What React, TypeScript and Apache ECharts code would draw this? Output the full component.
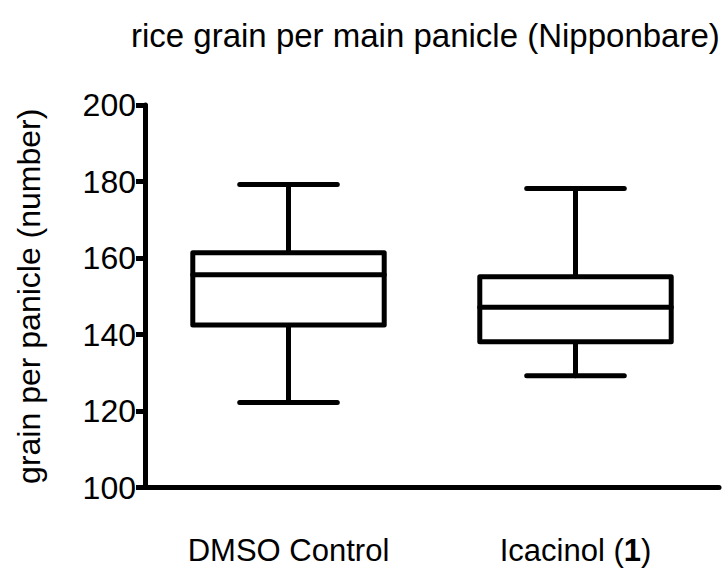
import React, { useEffect, useRef } from "react";
import * as echarts from "echarts";

const categories = ["DMSO Control", "Icacinol (1)"];
const whiskerLow = [122.2, 129.2];
const quartile1 = [142.5, 138.1];
const medians = [155.6, 147.1];
const quartile3 = [161.4, 155.1];
const whiskerHigh = [179.2, 178.2];
const yMin = 100;
const yMax = 200;
const yStep = 20;

const FONT = "Arial, 'Liberation Sans', Helvetica, sans-serif";

export default function App() {
  const ref = useRef<HTMLDivElement>(null);
  useEffect(() => {
    if (!ref.current) return;
    const chart = echarts.init(ref.current, null, { renderer: "svg" });
    const data = categories.map((_, i) => [
      i,
      whiskerLow[i],
      quartile1[i],
      medians[i],
      quartile3[i],
      whiskerHigh[i],
    ]);
    const lineStyle = {
      stroke: "#000",
      lineWidth: 5,
      lineCap: "round",
      lineJoin: "round",
    };
    chart.setOption({
      animation: false,
      backgroundColor: "#fff",
      title: {
        text: "rice grain per main panicle (Nipponbare)",
        left: 126,
        top: 14,
        textStyle: { fontFamily: FONT, fontSize: 33, fontWeight: "normal", color: "#000" },
      },
      grid: { left: 145, right: 5, top: 105, bottom: 81.5 },
      xAxis: {
        type: "category",
        data: categories,
        boundaryGap: true,
        axisLine: { lineStyle: { color: "#000", width: 5 } },
        axisTick: { alignWithLabel: true, length: 14, lineStyle: { color: "#000", width: 5 } },
        axisLabel: {
          margin: 47,
          color: "#000",
          fontFamily: FONT,
          fontSize: 31,
          formatter: (v: string) => v.replace("(1)", "({b|1})"),
          rich: {
            b: { fontFamily: FONT, fontSize: 31, fontWeight: "bold", color: "#000" },
          },
        },
        splitLine: { show: false },
      },
      yAxis: {
        type: "value",
        min: yMin,
        max: yMax,
        interval: yStep,
        name: "grain per panicle (number)",
        nameLocation: "middle",
        nameGap: 100,
        nameTextStyle: { fontFamily: FONT, fontSize: 32, color: "#000" },
        axisLine: { show: true, lineStyle: { color: "#000", width: 5 } },
        axisTick: { show: true, length: 9, lineStyle: { color: "#000", width: 5 } },
        axisLabel: { margin: 9, color: "#000", fontFamily: FONT, fontSize: 32 },
        splitLine: { show: false },
      },
      series: [
        {
          type: "custom",
          encode: { x: 0, y: [1, 2, 3, 4, 5] },
          data,
          renderItem: (params: any, api: any) => {
            const x = api.value(0);
            const lo = api.coord([x, api.value(1)]);
            const q1 = api.coord([x, api.value(2)]);
            const md = api.coord([x, api.value(3)]);
            const q3 = api.coord([x, api.value(4)]);
            const hi = api.coord([x, api.value(5)]);
            const band = api.size([1, 0])[0];
            const bw = band * 0.667;
            const cw = band * 0.34;
            const cx = lo[0];
            return {
              type: "group",
              children: [
                { type: "line", shape: { x1: cx, y1: q3[1], x2: cx, y2: hi[1] }, style: lineStyle },
                { type: "line", shape: { x1: cx, y1: q1[1], x2: cx, y2: lo[1] }, style: lineStyle },
                { type: "line", shape: { x1: cx - cw / 2, y1: hi[1], x2: cx + cw / 2, y2: hi[1] }, style: lineStyle },
                { type: "line", shape: { x1: cx - cw / 2, y1: lo[1], x2: cx + cw / 2, y2: lo[1] }, style: lineStyle },
                {
                  type: "rect",
                  shape: { x: cx - bw / 2, y: q3[1], width: bw, height: q1[1] - q3[1] },
                  style: { ...lineStyle, fill: "#fff" },
                },
                { type: "line", shape: { x1: cx - bw / 2, y1: md[1], x2: cx + bw / 2, y2: md[1] }, style: lineStyle },
              ],
            };
          },
        },
      ],
    });
    return () => chart.dispose();
  }, []);
  return (
    <div
      ref={ref}
      style={{ position: "absolute", left: 0, top: 0, width: 724, height: 569 }}
    />
  );
}
